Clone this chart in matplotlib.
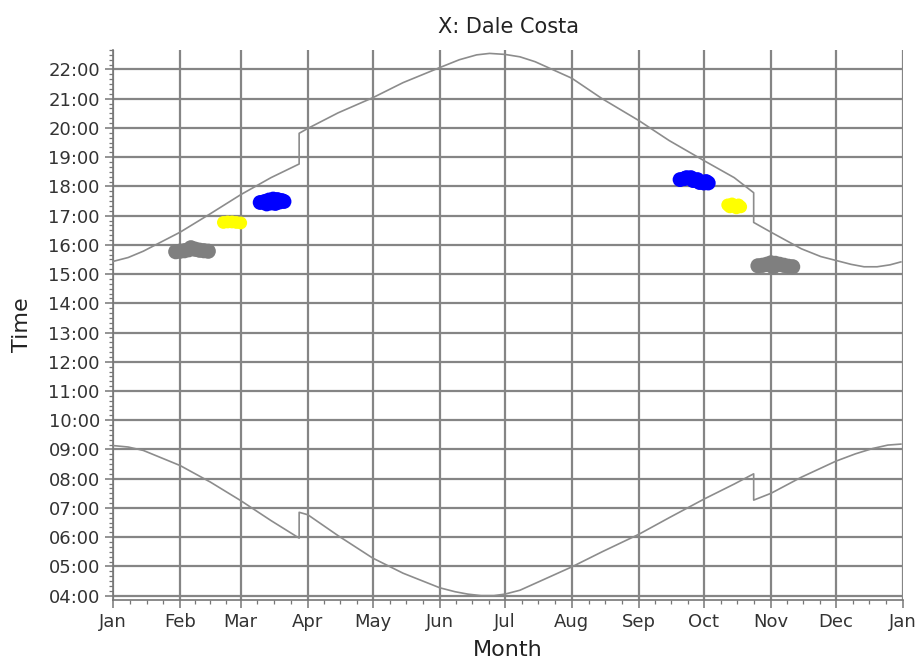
"""Sunrise / sunset chart with observation clusters for one site."""

import matplotlib

matplotlib.use("Agg")

import matplotlib.dates as mdates  # noqa: E402
import matplotlib.pyplot as plt  # noqa: E402
import numpy as np  # noqa: E402
import pandas as pd  # noqa: E402

TITLE = "X: Dale Costa"
YEAR_START = "2021-01-01"
YEAR_END = "2022-01-01"

# sunset times (local clock, DST step on Mar 28 and Oct 24)
sunset_dates = [
    "2021-01-01", "2021-01-08", "2021-01-15", "2021-02-01", "2021-02-15",
    "2021-03-01", "2021-03-15", "2021-03-28", "2021-03-28", "2021-04-01",
    "2021-04-15", "2021-05-01", "2021-05-15", "2021-06-01", "2021-06-10",
    "2021-06-18", "2021-06-24", "2021-07-01", "2021-07-08", "2021-07-15",
    "2021-08-01", "2021-08-15", "2021-09-01", "2021-09-15", "2021-10-01",
    "2021-10-15", "2021-10-24", "2021-10-24", "2021-11-01", "2021-11-15",
    "2021-11-24", "2021-12-01", "2021-12-08", "2021-12-14", "2021-12-20",
    "2021-12-26", "2021-12-31",
]
sunset_times = [
    "15:26", "15:34", "15:47", "16:26", "17:04",
    "17:43", "18:18", "18:46", "19:49", "19:59",
    "20:31", "21:02", "21:33", "22:04", "22:20",
    "22:30", "22:33", "22:31", "22:26", "22:16",
    "21:42", "21:00", "20:15", "19:34", "18:53",
    "18:18", "17:47", "16:46", "16:26", "15:52",
    "15:36", "15:28", "15:20", "15:15", "15:15",
    "15:19", "15:25",
]

sunrise_dates = [
    "2021-01-01", "2021-01-08", "2021-01-15", "2021-02-01", "2021-02-15",
    "2021-03-01", "2021-03-15", "2021-03-28", "2021-03-28", "2021-04-01",
    "2021-04-15", "2021-05-01", "2021-05-15", "2021-06-01", "2021-06-08",
    "2021-06-14", "2021-06-20", "2021-06-26", "2021-07-01", "2021-07-08",
    "2021-07-15", "2021-08-01", "2021-08-15", "2021-09-01", "2021-09-15",
    "2021-10-01", "2021-10-15", "2021-10-24", "2021-10-24", "2021-11-01",
    "2021-11-15", "2021-12-01", "2021-12-10", "2021-12-18", "2021-12-25",
    "2021-12-31",
]
sunrise_times = [
    "09:08", "09:05", "08:58", "08:27", "07:53",
    "07:15", "06:34", "05:58", "06:51", "06:46",
    "06:03", "05:17", "04:46", "04:16", "04:08",
    "04:03", "04:00", "04:00", "04:03", "04:11",
    "04:25", "04:59", "05:30", "06:06", "06:40",
    "07:18", "07:49", "08:10", "07:16", "07:30",
    "08:03", "08:36", "08:51", "09:02", "09:09",
    "09:11",
]

# observation clusters
grey_dates = [
    "2021-01-30", "2021-02-01", "2021-02-03", "2021-02-05", "2021-02-06",
    "2021-02-08", "2021-02-10", "2021-02-12", "2021-02-14",
    "2021-10-26", "2021-10-28", "2021-10-30", "2021-11-01", "2021-11-02",
    "2021-11-03", "2021-11-05", "2021-11-07", "2021-11-09", "2021-11-11",
]
grey_times = [
    "15:46", "15:47", "15:48", "15:50", "15:54",
    "15:51", "15:49", "15:48", "15:47",
    "15:17", "15:18", "15:20", "15:23", "15:15",
    "15:22", "15:20", "15:18", "15:16", "15:15",
]

yellow_dates = [
    "2021-02-21", "2021-02-23", "2021-02-25", "2021-02-27", "2021-03-01",
    "2021-10-12", "2021-10-13", "2021-10-14", "2021-10-15", "2021-10-16",
    "2021-10-17", "2021-10-18",
]
yellow_times = [
    "16:46", "16:47", "16:47", "16:46", "16:45",
    "17:22", "17:18", "17:24", "17:20", "17:16",
    "17:22", "17:18",
]

blue_dates = [
    "2021-03-10", "2021-03-12", "2021-03-13", "2021-03-14", "2021-03-15",
    "2021-03-16", "2021-03-17", "2021-03-18", "2021-03-19", "2021-03-20",
    "2021-03-21",
    "2021-09-20", "2021-09-22", "2021-09-23", "2021-09-25", "2021-09-26",
    "2021-09-28", "2021-09-29", "2021-10-01", "2021-10-02", "2021-10-03",
]
blue_times = [
    "17:27", "17:29", "17:24", "17:32", "17:26",
    "17:34", "17:25", "17:33", "17:28", "17:31",
    "17:29",
    "18:14", "18:16", "18:18", "18:18", "18:12",
    "18:14", "18:08", "18:07", "18:10", "18:07",
]

GRID_COLOR = "#858585"
CURVE_COLOR = "#8c8c8c"
TEXT_COLOR = "#333333"


def to_hours(times):
    parts = [t.split(":") for t in times]
    return np.array([int(h) + int(m) / 60 for h, m in parts])


def to_dates(dates):
    return pd.to_datetime(dates)


fig = plt.figure(figsize=(9.24, 6.64), dpi=100)
ax = fig.add_axes([0.1223, 0.0964, 0.855, 0.8283])

ax.plot(to_dates(sunset_dates), to_hours(sunset_times),
        color=CURVE_COLOR, linewidth=1.2, zorder=3)
ax.plot(to_dates(sunrise_dates), to_hours(sunrise_times),
        color=CURVE_COLOR, linewidth=1.2, zorder=3)

for dates, times, color, size in (
    (grey_dates, grey_times, "#7f7f7f", 120),
    (yellow_dates, yellow_times, "#ffff00", 85),
    (blue_dates, blue_times, "#0000ff", 115),
):
    ax.scatter(to_dates(dates), to_hours(times), s=size, color=color,
               edgecolors="none", zorder=4)

x0 = pd.Timestamp(YEAR_START)
x1 = pd.Timestamp(YEAR_END)
ax.set_xlim(x0, x1)
ax.set_ylim(3.85, 22.66)

# month starts as major ticks, quarter-months as minor ticks
month_starts = pd.date_range(x0, x1, freq="MS")
ax.set_xticks(month_starts)
ax.xaxis.set_major_formatter(mdates.DateFormatter("%b"))
minor = []
for a, b in zip(month_starts[:-1], month_starts[1:]):
    step = (b - a) / 4
    minor += [a + step * k for k in (1, 2, 3)]
ax.set_xticks(minor, minor=True)

hours = np.arange(4, 23)
ax.set_yticks(hours)
ax.set_yticklabels([f"{h:02d}:00" for h in hours])
ax.set_yticks(np.arange(4, 22.67, 1 / 6), minor=True)

ax.grid(True, which="major", color=GRID_COLOR, linewidth=1.6, zorder=1)
ax.set_axisbelow(True)

for side in ("top", "right"):
    ax.spines[side].set_visible(False)
for side in ("left", "bottom"):
    ax.spines[side].set_color("#777777")
    ax.spines[side].set_linewidth(1.2)

ax.tick_params(axis="both", which="major", labelsize=13, colors="#777777",
               labelcolor=TEXT_COLOR, length=6, width=1.1)
ax.tick_params(axis="both", which="minor", colors="#777777", length=3,
               width=0.9)

ax.set_title(TITLE, fontsize=15, color="#222222", pad=12)
ax.set_xlabel("Month", fontsize=16, color="#222222")
ax.set_ylabel("Time", fontsize=16, color="#222222")
ax.xaxis.set_label_coords(0.5, -0.072)
ax.yaxis.set_label_coords(-0.1025, 0.5)

fig.savefig("out.png", dpi=100, facecolor="white")
